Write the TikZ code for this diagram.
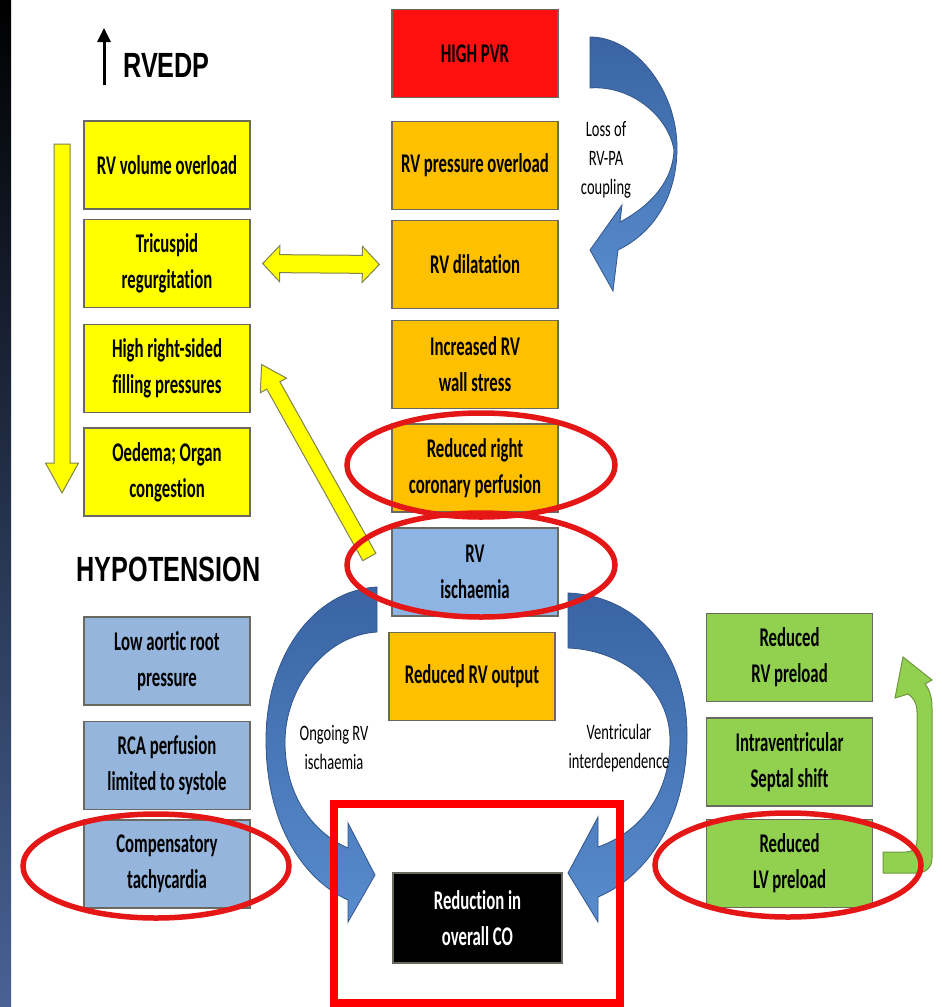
\documentclass[tikz,border=0pt]{standalone}
\usepackage{fontspec}
\usetikzlibrary{calc,shapes.geometric,arrows.meta}

\newfontfamily\boxfont[FakeStretch=0.62, RawFeature={-liga;-clig;-calt;-dlig}]{Carlito}
\newfontfamily\lblfont[FakeStretch=0.66, RawFeature={-liga;-clig;-calt;-dlig}]{Carlito}
\newfontfamily\headfont[FakeStretch=0.72]{Liberation Sans}

\definecolor{yel}{RGB}{255,255,0}
\definecolor{orng}{RGB}{255,192,0}
\definecolor{redbox}{RGB}{255,16,16}
\definecolor{bluebox}{RGB}{142,180,227}
\definecolor{sidebox}{RGB}{149,181,220}
\definecolor{grn}{RGB}{146,208,80}
\definecolor{boxline}{RGB}{105,105,95}
\definecolor{yelline}{RGB}{130,130,80}
\definecolor{arcdark}{RGB}{58,100,163}
\definecolor{arclight}{RGB}{88,140,205}
\definecolor{arcline}{RGB}{50,85,140}
\definecolor{ringred}{RGB}{228,22,22}
\definecolor{framered}{RGB}{255,0,0}
\definecolor{grnline}{RGB}{110,150,60}
\definecolor{bandblue}{RGB}{72,98,148}
\definecolor{bandmid}{RGB}{14,18,28}

% straight block arrow: #1 tail, #2 tip, #3 half shaft width,
% #4 half head width, #5 head length, #6 style
\newcommand\fatarrow[6]{%
  \coordinate (fahead) at ($(#2)!#5!(#1)$);
  \path[#6] ($(#1)!#3!90:(#2)$) -- ($(fahead)!#3!90:(#2)$)
    -- ($(fahead)!#4!90:(#2)$) -- (#2) -- ($(fahead)!#4!-90:(#2)$)
    -- ($(fahead)!#3!-90:(#2)$) -- ($(#1)!#3!-90:(#2)$) -- cycle;}

% block arrow with a head at both ends
\newcommand\fatdouble[6]{%
  \coordinate (fdA) at ($(#1)!#5!(#2)$);
  \coordinate (fdB) at ($(#2)!#5!(#1)$);
  \path[#6] (#1) -- ($(fdA)!#4!90:(#2)$) -- ($(fdA)!#3!90:(#2)$)
    -- ($(fdB)!#3!-90:(#1)$) -- ($(fdB)!#4!-90:(#1)$) -- (#2)
    -- ($(fdB)!#4!90:(#1)$) -- ($(fdB)!#3!90:(#1)$)
    -- ($(fdA)!#3!-90:(#2)$) -- ($(fdA)!#4!-90:(#2)$) -- cycle;}

\tikzset{
  box/.style={rectangle, draw=boxline, line width=1.3pt, minimum width=166pt,
    minimum height=88pt, inner sep=0pt, align=center, text=black,
    font={\boxfont\bfseries\fontsize{27}{36}\selectfont}},
  head/.style={inner sep=0pt, font={\headfont\bfseries\fontsize{35}{42}\selectfont}},
  lbl/.style={inner sep=0pt, align=center,
    font={\lblfont\fontsize{22}{29}\selectfont}},
  redring/.style={ellipse, draw=ringred, line width=5.5pt, inner sep=0pt},
  yelarrow/.style={fill=yel, draw=yelline, line width=1pt},
  bluearc/.style={top color=arcdark, bottom color=arclight, draw=arcline, line width=0.8pt},
}

\begin{document}
\begin{tikzpicture}[x=1pt, y=-1pt]
\useasboundingbox (0,0) rectangle (942,1007);
\fill[white] (0,0) rectangle (942,1007);

% dark strip along the left edge
\shade[top color=black, middle color=bandmid, bottom color=bandblue] (0,0) rectangle (11,1007);

% curved blue arrows
\path[bluearc] (590,37) .. controls (635,37) and (677,90) .. (677,148)
  .. controls (677,195) and (655,232) .. (618,250)
  -- (613,291) -- (590,250) -- (622,205) -- (620,222)
  .. controls (652,205) and (673,180) .. (674,150)
  .. controls (668,115) and (630,85) .. (590,88) -- cycle;

\path[bluearc] (377,587) .. controls (315,590) and (266,655) .. (266,740)
  .. controls (266,820) and (300,878) .. (348,900)
  -- (348,922) -- (375,875) -- (348,823) -- (348,848)
  .. controls (312,832) and (285,795) .. (285,742)
  .. controls (285,688) and (325,635) .. (377,632) -- cycle;

\path[bluearc] (568,593) .. controls (640,596) and (687,655) .. (687,735)
  .. controls (687,815) and (650,875) .. (598,897)
  -- (598,922) -- (568,873) -- (598,817) -- (598,847)
  .. controls (640,832) and (670,795) .. (670,740)
  .. controls (670,690) and (625,650) .. (568,648) -- cycle;

% headings
\coordinate (upTail) at (104,85);
\coordinate (upTip) at (104,28);
\draw[line width=3pt, -{Triangle[length=14pt,width=13pt]}] (upTail) -- (upTip);
\node[head] (rvedp) at (166.5,65.5) {RVEDP};
\node[head] (hypo) at (168.5,569.5) {HYPOTENSION};

% left column: raised RVEDP
\node[box, fill=yel] (vol) at (167,165) {RV volume overload};
\node[box, fill=yel] (tric) at (167,263.5) {Tricuspid\\regurgitation};
\node[box, fill=yel] (high) at (167,368.5) {High right-sided\\filling pressures};
\node[box, fill=yel] (oed) at (167,472) {Oedema; Organ\\congestion};

% central cascade
\node[box, fill=redbox] (pvr) at (475,53.5) {HIGH PVR};
\node[box, fill=orng] (press) at (475,165.5) {RV pressure overload};
\node[box, fill=orng] (dil) at (475,264.5) {RV dilatation};
\node[box, fill=orng] (stress) at (475,364.5) {Increased RV\\wall stress};
\node[box, fill=orng] (coron) at (475,468) {Reduced right\\coronary perfusion};
\node[box, fill=bluebox] (isch) at (475,572) {RV\\ischaemia};
\node[box, fill=orng] (rvout) at (472,676.5) {Reduced RV output};

% left column: hypotension
\node[box, fill=sidebox] (aortic) at (167,661) {Low aortic root\\pressure};
\node[box, fill=sidebox] (rca) at (167,765.5) {RCA perfusion\\limited to systole};
\node[box, fill=sidebox] (tachy) at (167,864) {Compensatory\\tachycardia};

% right column: ventricular interdependence
\node[box, fill=grn] (rvpre) at (789.5,657.5) {Reduced\\RV preload};
\node[box, fill=grn] (septal) at (789.5,762) {Intraventricular\\Septal shift};
\node[box, fill=grn] (lvpre) at (789.5,863.5) {Reduced\\LV preload};

% outcome
\node[box, fill=black, text=white, minimum width=169pt, minimum height=90pt] (co) at (477.5,918) {Reduction in\\overall CO};

% curved-arrow labels
\node[lbl] (loss) at (606,160) {Loss of\\RV-PA\\coupling};
\node[lbl] (ongo) at (334,748) {Ongoing RV\\ischaemia};
\node[lbl] (vent) at (619,748) {Ventricular\\interdependence};

% yellow block arrows
\coordinate (volTop) at (62,144);
\coordinate (oedBottom) at (62,493);
\fatarrow{volTop}{oedBottom}{8pt}{16.5pt}{30pt}{yelarrow}
\fatdouble{$(tric.east)+(12,0)$}{$(dil.west)+(-12,0)$}{9pt}{18pt}{17pt}{yelarrow}
\coordinate (ischTail) at ($(isch.west)+(-22,-15)$);
\coordinate (highTip) at ($(high.east)+(11,-4)$);
\fatarrow{ischTail}{highTip}{7.5pt}{15pt}{24pt}{yelarrow}

% green return arrow from LV preload to RV preload
\path[fill=grn, draw=grnline, line width=1pt]
  (883,852) -- (906,852) .. controls (913,852) and (917,848) .. (917,840)
  -- (917,712) .. controls (917,703) and (913,697) .. (908,694)
  -- (895,698) -- (903,657) -- (932,680) -- (925,684)
  .. controls (930,690) and (932,698) .. (932,708)
  -- (932,858) .. controls (932,867) and (926,873) .. (917,873)
  -- (883,873) -- cycle;

% highlight rings and outcome frame
\node[redring, minimum width=268pt, minimum height=104pt] (ringCor) at (481,465) {};
\node[redring, minimum width=268pt, minimum height=104pt] (ringIsch) at (481,565) {};
\node[redring, minimum width=266pt, minimum height=104pt] (ringTachy) at (156,866) {};
\node[redring, minimum width=266pt, minimum height=104pt] (ringLV) at (788,865) {};
\node[draw=framered, line width=8pt, minimum width=286pt, minimum height=199pt, inner sep=0pt] (frame) at (477,903.5) {};
\end{tikzpicture}
\end{document}
